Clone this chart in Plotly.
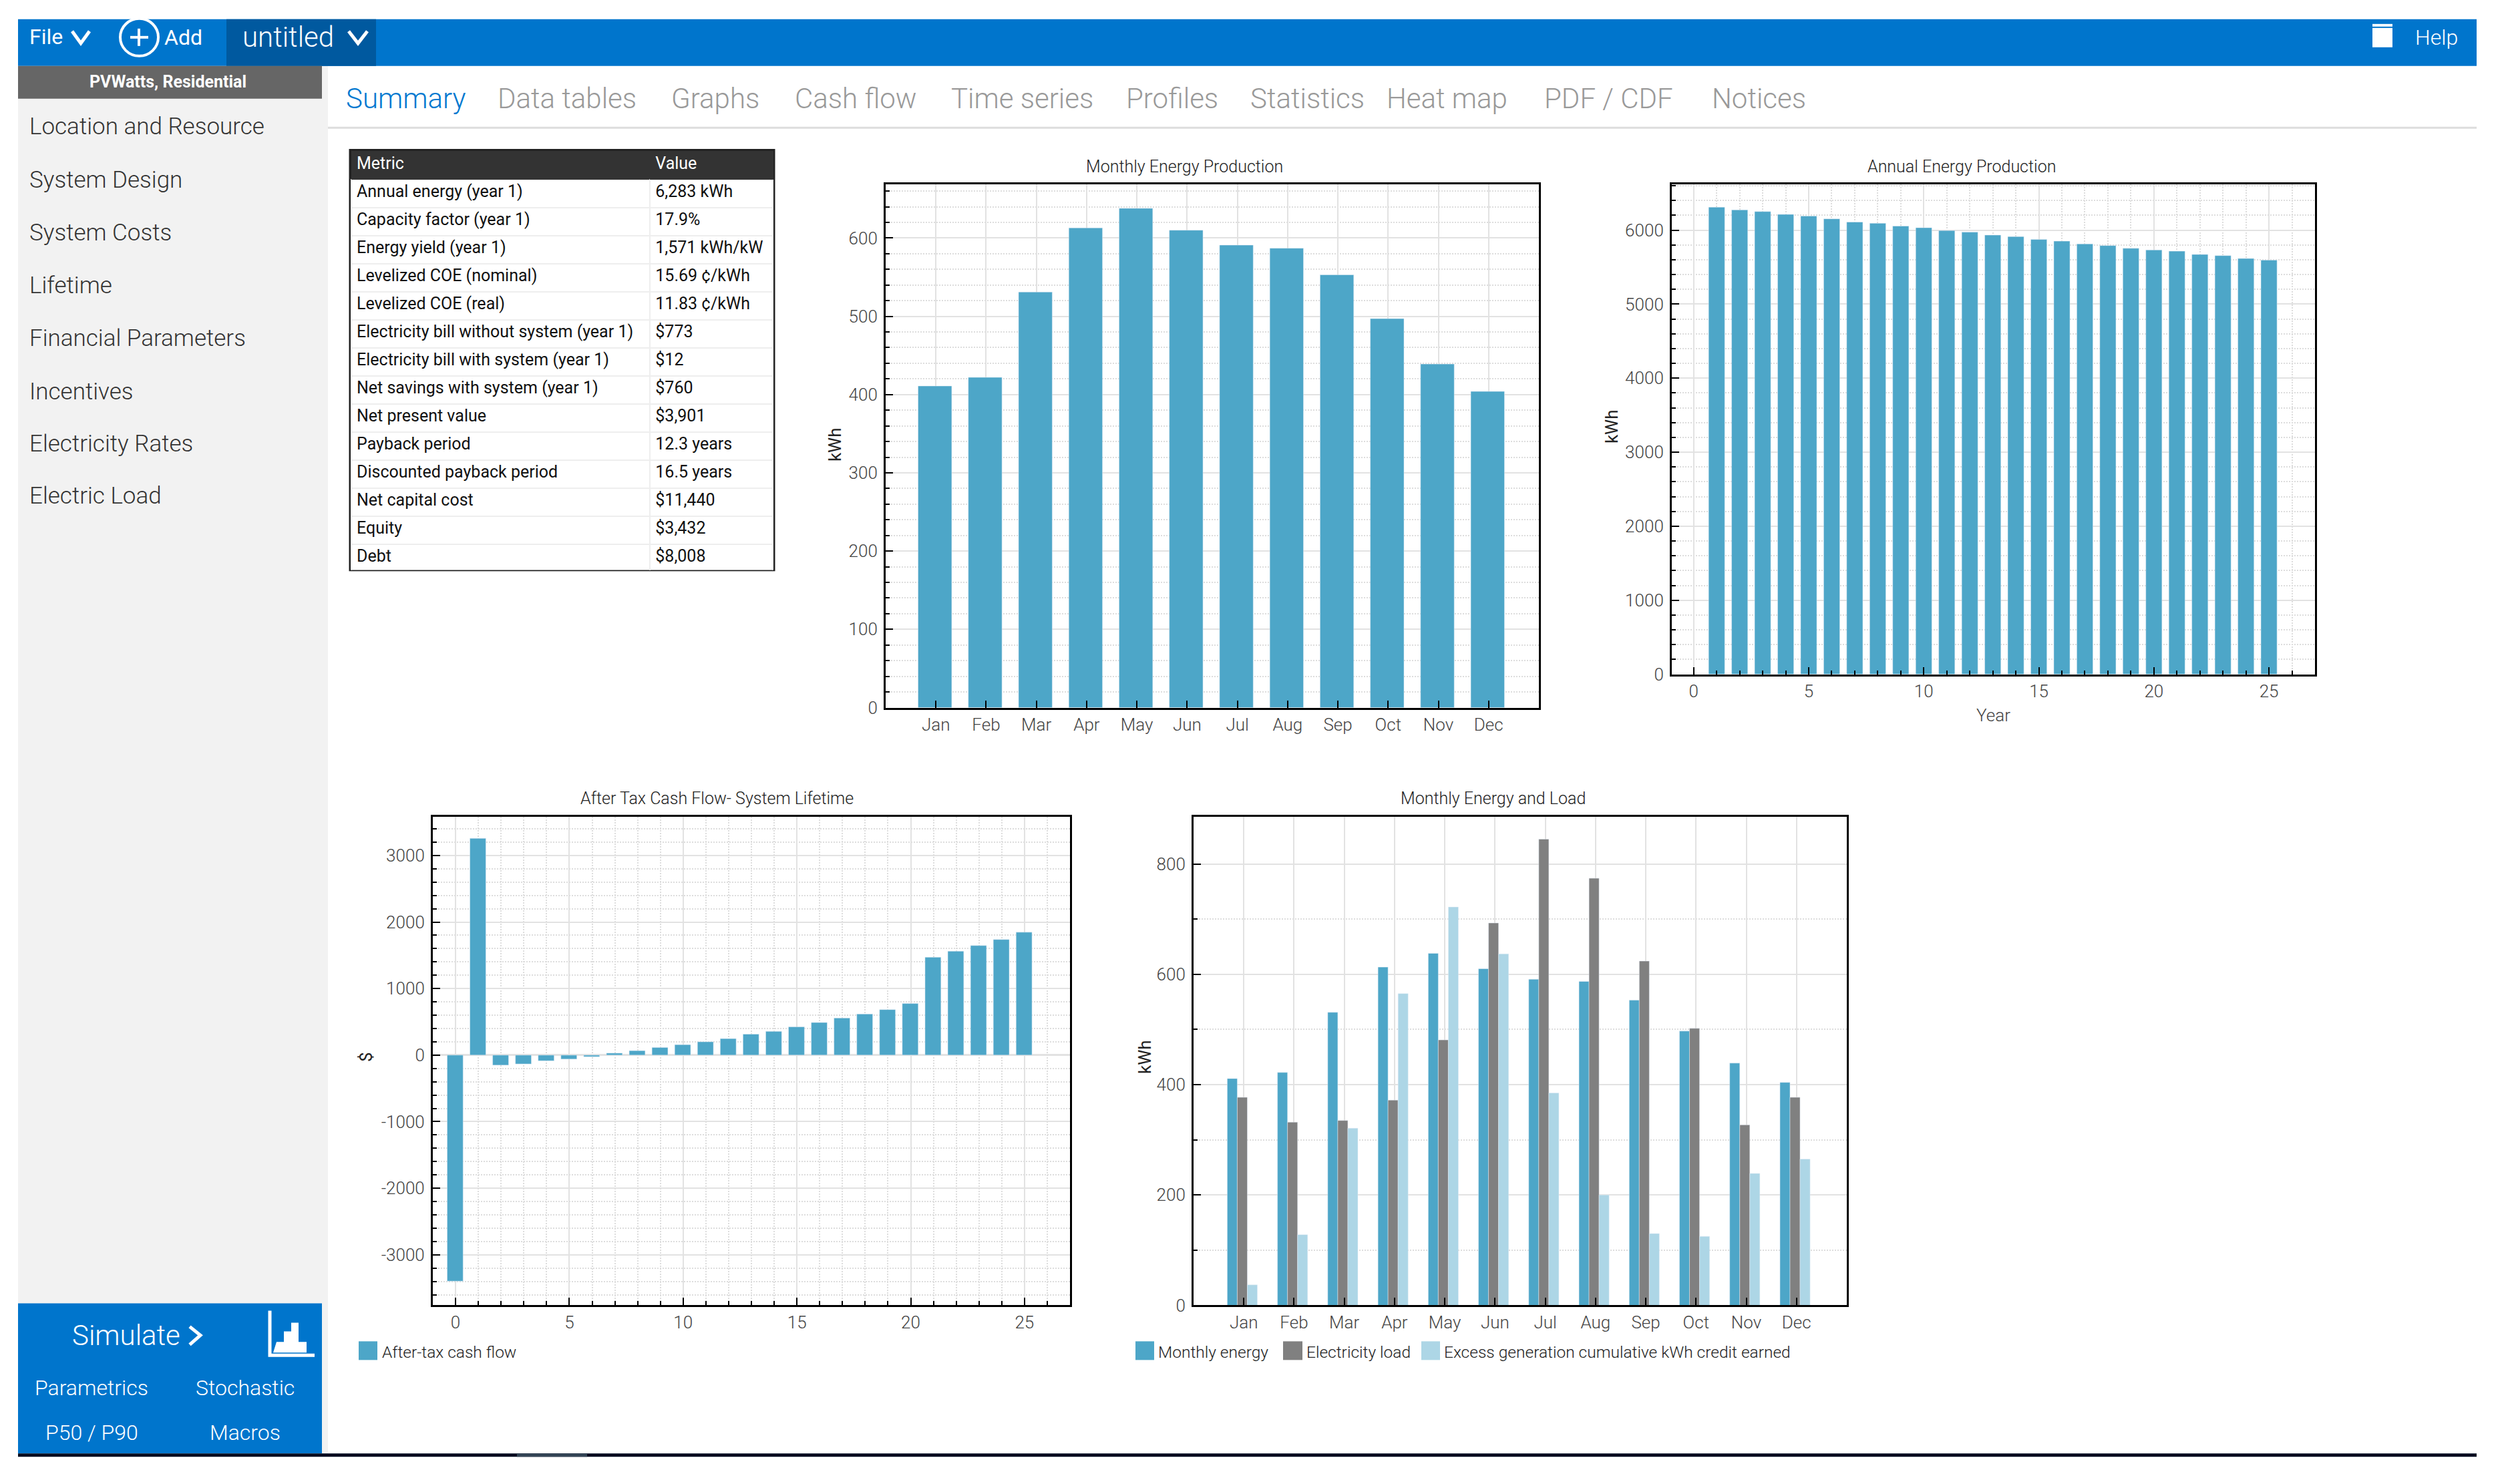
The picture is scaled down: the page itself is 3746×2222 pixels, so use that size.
import plotly.graph_objects as go

# Monthly data
months = ['Jan', 'Feb', 'Mar', 'Apr', 'May', 'Jun', 'Jul', 'Aug', 'Sep', 'Oct', 'Nov', 'Dec']
month_pos = [1, 2, 3, 4, 5, 6, 7, 8, 9, 10, 11, 12]
monthly_energy = [411, 422, 531, 613, 638, 610, 591, 587, 553, 497, 439, 404]
electricity_load = [377, 332, 335, 372, 481, 693, 845, 774, 624, 502, 327, 377]
excess_credit = [37, 128, 321, 565, 722, 637, 385, 200, 130, 125, 239, 265]

# Yearly data
years_annual = list(range(1, 26))
annual_energy = [6311, 6273, 6251, 6213, 6191, 6153, 6109, 6093, 6055, 6033, 5995, 5973, 5934,
                 5913, 5874, 5852, 5814, 5792, 5754, 5732, 5716, 5672, 5656, 5617, 5596]
years_cash = list(range(0, 26))
cash_flow = [-3396, 3257, -151, -133, -85, -60, -24, 30, 67, 115, 157, 200, 248,
             315, 357, 424, 490, 557, 617, 684, 775, 1471, 1562, 1646, 1737, 1846]
cash_ticks = [-3000, -2000, -1000, 0, 1000, 2000, 3000]
cash_tick_text = ['-3000', '-2000', '-1000', '0', '1000', '2000', '3000']

# Summary table
metrics = ['Annual energy (year 1)', 'Capacity factor (year 1)', 'Energy yield (year 1)',
           'Levelized COE (nominal)', 'Levelized COE (real)', 'Electricity bill without system (year 1)',
           'Electricity bill with system (year 1)', 'Net savings with system (year 1)', 'Net present value',
           'Payback period', 'Discounted payback period', 'Net capital cost', 'Equity', 'Debt']
metric_values = ['6,283 kWh', '17.9%', '1,571 kWh/kW', '15.69 ¢/kWh', '11.83 ¢/kWh', '$773', '$12', '$760',
                 '$3,901', '12.3 years', '16.5 years', '$11,440', '$3,432', '$8,008']

# App chrome labels
tabs = ['Summary', 'Data tables', 'Graphs', 'Cash flow', 'Time series', 'Profiles', 'Statistics',
        'Heat map', 'PDF / CDF', 'Notices']
tab_x = [518, 745, 1005, 1190, 1424, 1686, 1872, 2076, 2312, 2563]
nav_items = ['Location and Resource', 'System Design', 'System Costs', 'Lifetime',
             'Financial Parameters', 'Incentives', 'Electricity Rates', 'Electric Load']
nav_y = [190, 270, 349, 428, 507, 587, 665, 744]

BLUE = '#4DA6C8'
GRAY = '#808080'
LIGHT = '#ADD6E6'
BAR = '#0075CC'
FONT = 'Roboto'

# page body has an 8px margin, so work in screen pixels and shift
W, H, OFF = 3730, 2200, 8
# vertical stretch found by comparing the first render with the reference
KY = 1.0056


def px(x):
    return (x - OFF) / W


def py(y):
    return 1 - (29 + (y - 29) * KY - OFF) / H


fig = go.Figure()

fig.add_trace(go.Bar(x=month_pos, y=monthly_energy, marker_color=BLUE, width=0.67, offset=-0.355, xaxis='x', yaxis='y'))
fig.add_trace(go.Bar(x=years_annual, y=annual_energy, marker_color=BLUE, width=0.7, offset=-0.35, xaxis='x2', yaxis='y2'))
fig.add_trace(go.Bar(x=years_cash, y=cash_flow, marker_color=BLUE, width=0.7, offset=-0.37, xaxis='x3', yaxis='y3'))
for vals, col, off in [(monthly_energy, BLUE, -0.33), (electricity_load, GRAY, -0.13), (excess_credit, LIGHT, 0.07)]:
    fig.add_trace(go.Bar(x=month_pos, y=vals, marker_color=col, width=0.2, offset=off, xaxis='x4', yaxis='y4'))

fig.add_trace(go.Table(
    domain=dict(x=[px(526), px(1158)], y=[py(855), py(227)]),
    columnwidth=[448, 184],
    header=dict(values=['Metric', 'Value'], fill_color='#333333', height=42,
                line=dict(color='#333333', width=1), align='left',
                font=dict(family=FONT, size=25, color='white')),
    cells=dict(values=[metrics, metric_values], fill_color='white', height=42,
               line=dict(color='#eeeeee', width=2), align='left',
               font=dict(family=FONT, size=25, color='#111111')),
))

grid = dict(gridcolor='#E2E2E2', gridwidth=2, showline=True, linecolor='black', linewidth=3, mirror=True,
            ticks='inside', ticklen=11, tickwidth=2, tickcolor='black', zeroline=False,
            tickfont=dict(family=FONT, size=26, color='#444444', weight=300))


def minor(step):
    return dict(dtick=step, tick0=0, ticks='inside', ticklen=6, tickwidth=2, tickcolor='black',
                showgrid=True, gridcolor='#DDDDDD', griddash='2px,2px', gridwidth=2)


fig.update_layout(
    width=W, height=H, margin=dict(l=0, r=0, t=0, b=0, pad=0), autosize=False,
    paper_bgcolor='white', plot_bgcolor='white', showlegend=False, barmode='overlay',
    font=dict(family=FONT, size=26, color='#444444'),
    xaxis=dict(domain=[px(1326), px(2304)], range=[0, 13], tickvals=month_pos, ticktext=months, anchor='y', **grid),
    yaxis=dict(domain=[py(1061), py(276)], range=[0, 669], dtick=100, tick0=0, anchor='x', minor=minor(20),
               ticklabelstandoff=4, **grid),
    xaxis2=dict(domain=[px(2503), px(3466)], range=[-0.95, 27], dtick=5, tick0=0, anchor='y2', minor=minor(1), **grid),
    yaxis2=dict(domain=[py(1011), py(276)], range=[0, 6623], dtick=1000, tick0=0, anchor='x2', minor=minor(200),
                ticklabelstandoff=4, **grid),
    xaxis3=dict(domain=[px(648), px(1602)], range=[-1, 27], dtick=5, tick0=0, anchor='y3', minor=minor(1), **grid),
    yaxis3=dict(domain=[py(1957), py(1225)], range=[-3759, 3577], tickvals=cash_ticks, ticktext=cash_tick_text,
                anchor='x3', minor=minor(200), ticklabelstandoff=4, **grid),
    xaxis4=dict(domain=[px(1787), px(2765)], range=[0, 13], tickvals=month_pos, ticktext=months, anchor='y4', **grid),
    yaxis4=dict(domain=[py(1957), py(1225)], range=[0, 885], dtick=200, tick0=0, anchor='x4', minor=minor(100),
                ticklabelstandoff=4, **grid),
)
fig.update_layout(yaxis3_zeroline=True, yaxis3_zerolinecolor='#E2E2E2', yaxis3_zerolinewidth=3)

shapes = []


def rect(x0, y0, x1, y1, fill, line=None, lw=0):
    shapes.append(dict(type='rect', xref='paper', yref='paper', x0=px(x0), x1=px(x1), y0=py(y0), y1=py(y1),
                       fillcolor=fill, line=dict(color=line or fill, width=lw), layer='below'))


def path(points, color, width=0, fill=None, close=False):
    d = 'M' + 'L'.join(f'{px(a)},{py(b)}' for a, b in points) + ('Z' if close else '')
    shapes.append(dict(type='path', xref='paper', yref='paper', path=d, fillcolor=fill,
                       line=dict(color=color, width=width), layer='above'))


# app chrome
rect(27, 99, 491, 2179, '#F2F2F2')
rect(27, 29, 3708, 99, BAR)
rect(339, 29, 563, 99, '#00599F')
rect(27, 99, 482, 148, '#666666')
rect(27, 1954, 482, 2179, BAR)
rect(27, 2179, 3708, 2184, '#000A1F')
rect(774, 2179, 879, 2184, '#334455')
rect(491, 190, 3708, 193, '#DDDDDD')
rect(524, 225, 1159, 855, '#222222', '#222222', 3)

# chevrons, add button, help icon, simulate icon
path([(108, 47), (121, 65), (134, 47)], 'white', 5)
path([(522, 47), (536, 65), (550, 47)], 'white', 5)
path([(284, 1989), (300, 2002), (284, 2016)], 'white', 5)
shapes.append(dict(type='circle', xref='paper', yref='paper', x0=px(180), x1=px(237), y0=py(84), y1=py(28),
                   line=dict(color='white', width=4), layer='above'))
path([(195, 56), (222, 56)], 'white', 4)
path([(208, 43), (208, 69)], 'white', 4)
rect(3552, 36, 3582, 40, 'white')
rect(3552, 42, 3582, 71, 'white')
path([(404, 1965), (404, 2032), (471, 2032)], 'white', 5)
path([(409, 2028), (414, 2012), (425, 2012), (425, 1996), (436, 1996), (436, 1983), (447, 1983),
      (447, 2012), (459, 2012), (459, 2028)], 'white', 0, 'white', True)

# legend swatches
rect(537, 2011, 565, 2039, BLUE)
rect(1700, 2011, 1728, 2039, BLUE)
rect(1921, 2011, 1950, 2039, GRAY)
rect(2128, 2011, 2156, 2039, LIGHT)

fig.update_layout(shapes=shapes)

annots = []


def label(x, y, text, size=26, color='#444444', anchor='left', angle=0, weight=None):
    font = dict(family=FONT, size=size, color=color)
    if weight:
        font['weight'] = weight
    annots.append(dict(xref='paper', yref='paper', x=px(x), y=py(y), text=text, showarrow=False, font=font,
                       xanchor=anchor, yanchor='middle', textangle=angle, borderpad=0, borderwidth=0))


label(44, 55, 'File', 32, 'white')
label(246, 56, 'Add', 32, 'white')
label(363, 56, 'untitled', 42, 'white', weight=300)
label(3616, 56, 'Help', 32, 'white', weight=300)
label(251, 123, 'PVWatts, Residential', 25, 'white', 'center', weight=700)
for y, item in zip(nav_y, nav_items):
    label(44, y, item, 35, '#333333', weight=300)
for x, tab in zip(tab_x, tabs):
    label(x, 148, tab, 42, '#0078D0' if tab == 'Summary' else '#999999', weight=300)
label(189, 2002, 'Simulate', 42, 'white', 'center', weight=300)
label(137, 2081, 'Parametrics', 32, 'white', 'center', weight=300)
label(367, 2081, 'Stochastic', 32, 'white', 'center', weight=300)
label(137, 2148, 'P50 / P90', 32, 'white', 'center', weight=300)
label(367, 2148, 'Macros', 32, 'white', 'center', weight=300)

# chart titles and axis labels
label(1773, 250, 'Monthly Energy Production', 25, '#222222', anchor='center', weight=300)
label(2937, 250, 'Annual Energy Production', 25, '#222222', anchor='center', weight=300)
label(1073, 1197, 'After Tax Cash Flow- System Lifetime', 25, '#222222', anchor='center', weight=300)
label(2235, 1197, 'Monthly Energy and Load', 25, '#222222', anchor='center', weight=300)
label(1250, 667, 'kWh', 26, '#222222', anchor='center', angle=-90)
label(2413, 640, 'kWh', 26, '#222222', anchor='center', angle=-90)
label(548, 1585, '$', 26, '#222222', anchor='center', angle=-90)
label(1714, 1585, 'kWh', 26, '#222222', anchor='center', angle=-90)
label(2984, 1072, 'Year', 26, anchor='center', weight=300)

# legend text
label(572, 2027, 'After-tax cash flow', 24.5, '#222222', weight=300)
label(1734, 2027, 'Monthly energy', 24.5, '#222222', weight=300)
label(1956, 2027, 'Electricity load', 24.5, '#222222', weight=300)
label(2162, 2027, 'Excess generation cumulative kWh credit earned', 24.5, '#222222', weight=300)

fig.update_layout(annotations=annots)

fig.write_html("out.html")
